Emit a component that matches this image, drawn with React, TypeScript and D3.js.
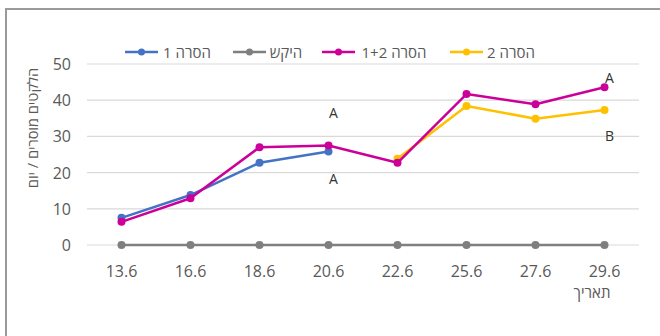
import React from "react";
import * as d3 from "d3";

const categories = ["13.6", "16.6", "18.6", "20.6", "22.6", "25.6", "27.6", "29.6"];
const series1 = [7.5, 13.8, 22.7, 25.8, null, null, null, null];
const control = [0, 0, 0, 0, 0, 0, 0, 0];
const series12 = [6.4, 12.9, 27, 27.5, 22.7, 41.7, 38.9, 43.6];
const series2 = [null, null, null, null, 23.8, 38.4, 34.9, 37.3];
const yTicks = [0, 10, 20, 30, 40, 50];
const seriesNames = ["הסרה 1", "היקש", "הסרה 1+2", "הסרה 2"];
const annotations = [
  { cat: "20.6", value: 36.5, text: "A" },
  { cat: "20.6", value: 18.3, text: "A" },
  { cat: "29.6", value: 46.2, text: "A" },
  { cat: "29.6", value: 30, text: "B" },
];

const colors = ["#4472C4", "#7F7F7F", "#CC0099", "#FFC000"];
const FONT = "'Open Sans', 'Liberation Sans', sans-serif";

export default function App() {
  const W = 660, H = 336;
  const x = d3.scaleBand<string>().domain(categories).range([87, 639]);
  const y = d3.scaleLinear().domain([0, 50]).range([245, 64]);
  const cx = (c: string) => (x(c) as number) + x.bandwidth() / 2;

  const data = [series1, control, series12, series2];
  const line = d3
    .line<[string, number | null]>()
    .defined((d) => d[1] != null)
    .x((d) => cx(d[0]))
    .y((d) => y(d[1] as number));

  const legendX = [125, 233, 322, 450];
  const legendTextX = [187, 286, 394, 511];
  const drawOrder = [1, 0, 3, 2];

  return (
    <svg width={W} height={H} style={{ position: "absolute", left: 0, top: 0 }}>
      <rect x={0} y={0} width={W} height={H} fill="#fff" />
      <rect x={6} y={9} width={700} height={400} fill="none" stroke="#9a9a9a" strokeWidth={2} />
      {yTicks.map((t) => (
        <g key={t}>
          <line x1={87} x2={639} y1={y(t)} y2={y(t)} stroke="#d9d9d9" strokeWidth={1.2} />
          <text x={71} y={y(t) + 6} textAnchor="end" fontFamily={FONT} fontSize={16} fill="#595959">
            {t}
          </text>
        </g>
      ))}
      {categories.map((c) => (
        <text key={c} x={cx(c)} y={277} textAnchor="middle" fontFamily={FONT} fontSize={16} fill="#595959">
          {c}
        </text>
      ))}
      <text x={592} y={298} textAnchor="middle" fontFamily={FONT} fontSize={15} fill="#595959" style={{ direction: "rtl" }}>
        תאריך
      </text>
      <text
        transform={`translate(38,${128}) rotate(-90)`}
        textAnchor="middle"
        fontFamily={FONT}
        fontSize={14.5}
        fill="#595959"
        style={{ direction: "rtl", unicodeBidi: "embed" }}
      >
        הלקטים מוסרים / יום
      </text>
      {drawOrder.map((i) => {
        const pts: [string, number | null][] = categories.map((c, k) => [c, data[i][k]]);
        return (
          <g key={i}>
            <path d={line(pts) || ""} fill="none" stroke={colors[i]} strokeWidth={2.5} strokeLinejoin="round" />
            {pts
              .filter((p) => p[1] != null)
              .map((p) => (
                <circle key={p[0]} cx={cx(p[0])} cy={y(p[1] as number)} r={4} fill={colors[i]} />
              ))}
          </g>
        );
      })}
      {annotations.map((a, k) => (
        <text key={k} x={cx(a.cat) + 5} y={y(a.value) + 5} textAnchor="middle" fontFamily={FONT} fontSize={14} fill="#333">
          {a.text}
        </text>
      ))}
      {seriesNames.map((n, i) => (
        <g key={n}>
          <line x1={legendX[i]} x2={legendX[i] + 33} y1={52} y2={52} stroke={colors[i]} strokeWidth={2.5} />
          <circle cx={legendX[i] + 16.5} cy={52} r={3.5} fill={colors[i]} />
          <text
            x={legendTextX[i]}
            y={57.5}
            textAnchor="middle"
            fontFamily={FONT}
            fontSize={15}
            fill="#595959"
            style={{ direction: "rtl", unicodeBidi: "embed" }}
          >
            {n}
          </text>
        </g>
      ))}
    </svg>
  );
}
